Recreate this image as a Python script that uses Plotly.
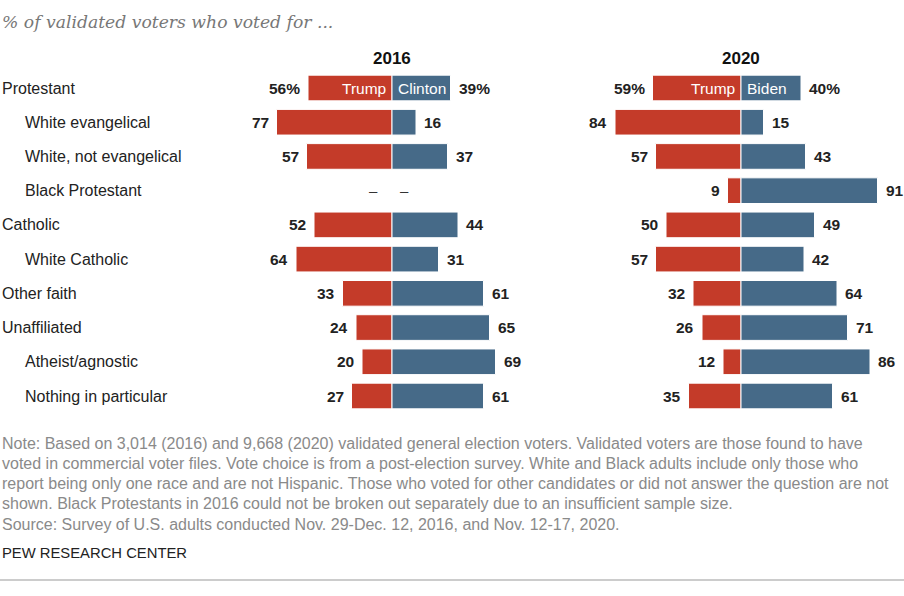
import plotly.graph_objects as go

categories = ["Protestant", "White evangelical", "White, not evangelical", "Black Protestant",
              "Catholic", "White Catholic", "Other faith", "Unaffiliated",
              "Atheist/agnostic", "Nothing in particular"]
indented = [False, True, True, True, False, True, False, False, True, True]

trump_2016 = [56, 77, 57, None, 52, 64, 33, 24, 20, 27]
clinton_2016 = [39, 16, 37, None, 44, 31, 61, 65, 69, 61]
trump_2020 = [59, 84, 57, 9, 50, 57, 32, 26, 12, 35]
biden_2020 = [40, 15, 43, 91, 49, 42, 64, 71, 86, 61]

years = ["2016", "2020"]
dem_names = ["Clinton", "Biden"]

note_lines = [
    "Note: Based on 3,014 (2016) and 9,668 (2020) validated general election voters. Validated voters are those found to have",
    "voted in commercial voter files. Vote choice is from a post-election survey. White and Black adults include only those who",
    "report being only one race and are not Hispanic. Those who voted for other candidates or did not answer the question are not",
    "shown. Black Protestants in 2016 could not be broken out separately due to an insufficient sample size.",
    "Source: Survey of U.S. adults conducted Nov. 29-Dec. 12, 2016, and Nov. 12-17, 2020.",
]

RED = "#C43B29"
BLUE = "#466A88"
W, H = 904, 596
PX = 1.5  # pixels per percentage point
centers = [392, 741]
ranges = [(-90, 90), (-90, 100)]

fig = go.Figure()
rows = list(range(len(categories)))

annotations = []
panels = [(trump_2016, clinton_2016), (trump_2020, biden_2020)]
for i, (rep, dem) in enumerate(panels):
    xa = "x" if i == 0 else "x2"
    fig.add_trace(go.Bar(y=rows, x=[-v if v is not None else None for v in rep], orientation="h",
                         marker=dict(color=RED, line=dict(color="white", width=1)),
                         width=0.75, xaxis=xa, yaxis="y", showlegend=False,
                         name="Trump"))
    fig.add_trace(go.Bar(y=rows, x=dem, orientation="h",
                         marker=dict(color=BLUE, line=dict(color="white", width=1)),
                         width=0.75, xaxis=xa, yaxis="y", showlegend=False,
                         name=dem_names[i]))
    for r in rows:
        rv, dv = rep[r], dem[r]
        suffix = "%" if r == 0 else ""
        if rv is None:
            annotations.append(dict(x=0, y=r, xref=xa, yref="y", text="–", showarrow=False,
                                    xanchor="right", xshift=-12, font=dict(size=15, color="#333")))
            annotations.append(dict(x=0, y=r, xref=xa, yref="y", text="–", showarrow=False,
                                    xanchor="left", xshift=6, font=dict(size=15, color="#333")))
            continue
        annotations.append(dict(x=-rv, y=r, xref=xa, yref="y", text=f"<b>{rv}{suffix}</b>",
                                showarrow=False, xanchor="right", xshift=-6,
                                font=dict(size=15.5, color="#222")))
        annotations.append(dict(x=dv, y=r, xref=xa, yref="y", text=f"<b>{dv}{suffix}</b>",
                                showarrow=False, xanchor="left", xshift=6,
                                font=dict(size=15.5, color="#222")))
    annotations.append(dict(x=0, y=0, xref=xa, yref="y", text="Trump", showarrow=False,
                            xanchor="right", xshift=-4, font=dict(size=15.5, color="white")))
    annotations.append(dict(x=0, y=0, xref=xa, yref="y", text=dem_names[i], showarrow=False,
                            xanchor="left", xshift=4, font=dict(size=15.5, color="white")))
    annotations.append(dict(x=0, y=1 - 58 / H, xref=xa, yref="paper", yanchor="middle",
                            text=f"<b>{years[i]}</b>", showarrow=False,
                            font=dict(size=17, color="#111")))

for r, (c, ind) in enumerate(zip(categories, indented)):
    annotations.append(dict(x=(25 if ind else 2) / W, y=r, xref="paper", yref="y", text=c,
                            showarrow=False, xanchor="left", xshift=-2,
                            font=dict(size=16, color="#222")))

annotations.append(dict(x=2 / W, y=1 - 22 / H, xref="paper", yref="paper",
                        text="<i>% of validated voters who voted for ...</i>", showarrow=False,
                        xanchor="left", yanchor="middle", xshift=-2,
                        font=dict(size=17.2, color="#777", family="DejaVu Serif, Georgia, serif")))

note_y = [443, 463.3, 483.6, 503.9, 524.2]
for txt, yy in zip(note_lines, note_y):
    annotations.append(dict(x=2 / W, y=1 - yy / H, xref="paper", yref="paper", text=txt,
                            showarrow=False, xanchor="left", yanchor="middle", xshift=-2,
                            font=dict(size=16, color="#8a8a8a", family="Liberation Sans, Arial")))
annotations.append(dict(x=2 / W, y=1 - 553 / H, xref="paper", yref="paper", text="PEW RESEARCH CENTER",
                        showarrow=False, xanchor="left", yanchor="middle", xshift=-2,
                        font=dict(size=14.8, color="#222", family="Liberation Sans, Arial")))

top = 88 - 0.5 * 34.22
bottom = 396 + 0.5 * 34.22
doms = []
for c, (lo, hi) in zip(centers, ranges):
    x0 = c + lo * PX
    x1 = c + hi * PX
    doms.append([x0 / W, x1 / W])

fig.update_layout(
    width=W, height=H,
    margin=dict(l=0, r=0, t=0, b=0, pad=0),
    paper_bgcolor="white", plot_bgcolor="white",
    barmode="relative",
    font=dict(family="Liberation Sans, Arial, sans-serif", color="#222"),
    xaxis=dict(domain=doms[0], range=list(ranges[0]), visible=False, fixedrange=True),
    xaxis2=dict(domain=doms[1], range=list(ranges[1]), visible=False, fixedrange=True, anchor="y"),
    yaxis=dict(domain=[1 - bottom / H, 1 - top / H], range=[9.5, -0.5], visible=False, fixedrange=True),
    annotations=annotations,
    shapes=[dict(type="line", xref="paper", yref="paper", x0=0, x1=1, y0=1 - 580 / H, y1=1 - 580 / H,
                 line=dict(color="#bbb", width=1.5))],
)

fig.write_html("out.html", config={"displayModeBar": False},
               post_script="document.body.style.margin='0';document.body.style.overflow='hidden';")
